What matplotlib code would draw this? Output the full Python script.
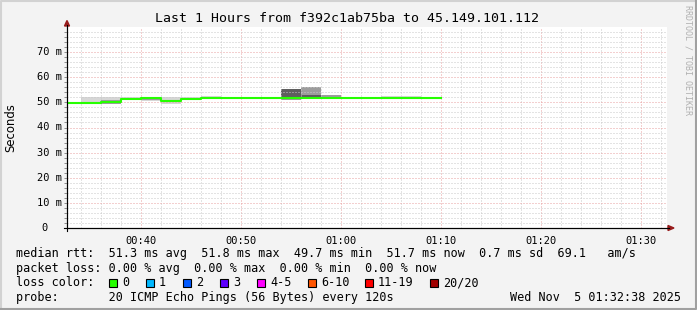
import matplotlib.pyplot as plt
from matplotlib.patches import Rectangle, Polygon
from matplotlib.lines import Line2D
from matplotlib.transforms import blended_transform_factory

# time in minutes since 00:00, one step every 2 min (120 s)
seg_start = [32, 34, 36, 38, 40, 42, 44, 46, 48, 50, 52, 54, 56, 58, 60, 62, 64, 66, 68]
seg_end = 70
t_from, t_to = 32.633, 92.633   # 00:32:38 .. 01:32:38

# median rtt per step (ms)
median = [49.7, 49.7, 50.0, 51.4, 51.6, 50.4, 51.2, 51.6, 51.6, 51.6,
          51.6, 51.8, 51.8, 51.7, 51.6, 51.6, 51.6, 51.6, 51.7]
# smoke: spread of the 20 pings (ms)
ping_min = [49.5, 49.3, 49.2, 50.8, 50.4, 49.4, 51.0, 51.3, 51.3, 51.4,
            51.4, 50.9, 51.2, 51.3, 51.4, 51.4, 51.3, 51.3, 51.4]
ping_max = [49.9, 52.1, 52.1, 52.0, 52.0, 52.1, 52.1, 52.6, 52.3, 52.0,
            52.0, 55.4, 56.1, 53.1, 52.0, 52.0, 52.6, 52.6, 52.0]
q10 = [49.6, 49.5, 49.5, 51.0, 50.9, 50.0, 51.1, 51.4, 51.4, 51.5,
       51.5, 51.1, 51.3, 51.4, 51.5, 51.5, 51.4, 51.4, 51.5]
q90 = [49.8, 50.3, 51.0, 51.9, 51.9, 50.8, 51.5, 51.9, 51.9, 51.8,
       51.8, 55.4, 56.1, 53.1, 51.8, 51.8, 51.9, 51.9, 51.8]
q25 = [49.6, 49.6, 49.8, 51.2, 51.4, 50.2, 51.1, 51.5, 51.5, 51.5,
       51.5, 51.3, 51.5, 51.5, 51.5, 51.5, 51.5, 51.5, 51.6]
q75 = [49.8, 49.9, 50.2, 51.9, 51.8, 50.6, 51.4, 51.7, 51.7, 51.7,
       51.7, 55.3, 53.0, 51.9, 51.7, 51.7, 51.7, 51.7, 51.8]

x_major = [40, 50, 60, 70, 80, 90]
x_labels = ['00:40', '00:50', '01:00', '01:10', '01:20', '01:30']
y_major = [0, 10, 20, 30, 40, 50, 60, 70]

loss_labels = ['0', '1', '2', '3', '4-5', '6-10', '11-19', '20/20']
loss_colors = ['#26ff00', '#00b8ff', '#0059ff', '#5e00ff', '#ff00ff',
               '#ff5500', '#ff0000', '#a10000']

title = 'Last 1 Hours from f392c1ab75ba to 45.149.101.112'
rtt_line = 'median rtt:  51.3 ms avg  51.8 ms max  49.7 ms min  51.7 ms now  0.7 ms sd  69.1   am/s'
loss_line = 'packet loss: 0.00 % avg  0.00 % max  0.00 % min  0.00 % now'
probe_line = 'probe:       20 ICMP Echo Pings (56 Bytes) every 120s'
stamp = 'Wed Nov  5 01:32:38 2025'

W, H = 697, 310
MONO = 'DejaVu Sans Mono'


def fx(x):
    return x / W


def fy(y):
    return 1 - y / H


fig = plt.figure(figsize=(W / 100, H / 100), dpi=100)
fig.patch.set_facecolor('#f3f3f3')

ax = fig.add_axes([fx(67), fy(228), 600 / W, 201 / H])
ax.set_facecolor('white')

x_edges = seg_start + [seg_end]


def ext(a):
    return a + [a[-1]]


ax.fill_between(x_edges, ext(ping_min), ext(ping_max), step='post', color='#d6d6d6', lw=0, zorder=1)
ax.fill_between(x_edges, ext(q10), ext(q90), step='post', color='#9c9c9c', lw=0, zorder=1.1)
ax.fill_between(x_edges, ext(q25), ext(q75), step='post', color='#5e5e5e', lw=0, zorder=1.2)
ax.step(x_edges, ext(median), where='post', color=loss_colors[0], lw=1.5, zorder=3)

ax.set_xlim(t_from, t_to)
ax.set_ylim(0, 80)
ax.set_xticks(x_major)
ax.set_xticklabels(x_labels, family=MONO, fontsize=7.5)
ax.set_xticks(list(range(34, 93, 2)), minor=True)
ax.set_yticks(y_major)
ax.set_yticks(list(range(2, 80, 2)), minor=True)
ax.set_yticklabels([])
ax.set_axisbelow(False)
ax.grid(which='minor', color='#c8c8c8', ls=(0, (1, 2)), lw=0.72, zorder=2.5)
ax.grid(which='major', color='#e8a0a0', ls=(0, (1, 2)), lw=0.72, zorder=2.6)
ax.tick_params(axis='y', which='both', direction='out', length=2.2, width=0.72, color='#909090', pad=3)
ax.tick_params(axis='x', which='both', length=0, pad=6)

for s in ['top', 'right']:
    ax.spines[s].set_visible(False)
for s in ['left', 'bottom']:
    ax.spines[s].set_color('black')
    ax.spines[s].set_linewidth(0.8)

# y tick labels like rrdtool: "70 m", zero without unit
tr = blended_transform_factory(fig.transFigure, ax.transData)
for v in y_major:
    if v == 0:
        ax.text(fx(47.5), v, '0', transform=tr, ha='right', va='center',
                family=MONO, fontsize=7.5)
    else:
        ax.text(fx(61.5), v, f'{v} m', transform=tr, ha='right', va='center',
                family=MONO, fontsize=7.5)

# axis extensions and arrows
fig.add_artist(Line2D([fx(67), fx(67)], [fy(231), fy(25)], color='black', lw=0.8))
fig.add_artist(Line2D([fx(64), fx(669)], [fy(228), fy(228)], color='black', lw=0.8))
fig.add_artist(Polygon([(fx(64.5), fy(26)), (fx(69.5), fy(26)), (fx(67), fy(20.5))],
                       closed=True, color='#981c1c', transform=fig.transFigure))
fig.add_artist(Polygon([(fx(668), fy(225.5)), (fx(668), fy(230.5)), (fx(674), fy(228))],
                       closed=True, color='#981c1c', transform=fig.transFigure))

# frame around the image
fig.add_artist(Line2D([fx(1), fx(1), fx(696)], [fy(309), fy(1), fy(1)], color='#d2d2d2', lw=1.5))
fig.add_artist(Line2D([fx(1), fx(696), fx(696)], [fy(309), fy(309), fy(1)], color='#a0a0a0', lw=1.5))

# texts
fig.text(fx(347), fy(19), title, ha='center', va='center', family=MONO, fontsize=9.5)
fig.text(fx(10.5), fy(127.5), 'Seconds', rotation=90, ha='center', va='center',
         family='DejaVu Sans', fontsize=8.4)
fig.text(fx(688), fy(5), 'RRDTOOL / TOBI OETIKER', rotation=270, ha='center', va='top',
         family=MONO, fontsize=6, color='#b0b0b0')

fig.text(fx(16), fy(254), rtt_line, ha='left', va='center', family=MONO, fontsize=8.5)
fig.text(fx(16), fy(268.5), loss_line, ha='left', va='center', family=MONO, fontsize=8.5)
fig.text(fx(16), fy(283), 'loss color:', ha='left', va='center', family=MONO, fontsize=8.5)
fig.text(fx(16), fy(297.5), probe_line, ha='left', va='center', family=MONO, fontsize=8.5)
fig.text(fx(681), fy(297.5), stamp, ha='right', va='center', family=MONO, fontsize=8.5)

box_x = [108.5, 145.5, 182.5, 219.5, 257, 307.5, 365, 430]
lab_x = [122, 159, 196, 233, 270, 321, 378, 443]
for bx, lx, lab, col in zip(box_x, lab_x, loss_labels, loss_colors):
    fig.add_artist(Rectangle((fx(bx), fy(287)), 8 / W, 8 / H, facecolor=col,
                             edgecolor='black', lw=0.8, transform=fig.transFigure))
    fig.text(fx(lx), fy(283), lab, ha='left', va='center', family=MONO, fontsize=8.5)

fig.savefig('out.png', dpi=100, facecolor=fig.get_facecolor())
